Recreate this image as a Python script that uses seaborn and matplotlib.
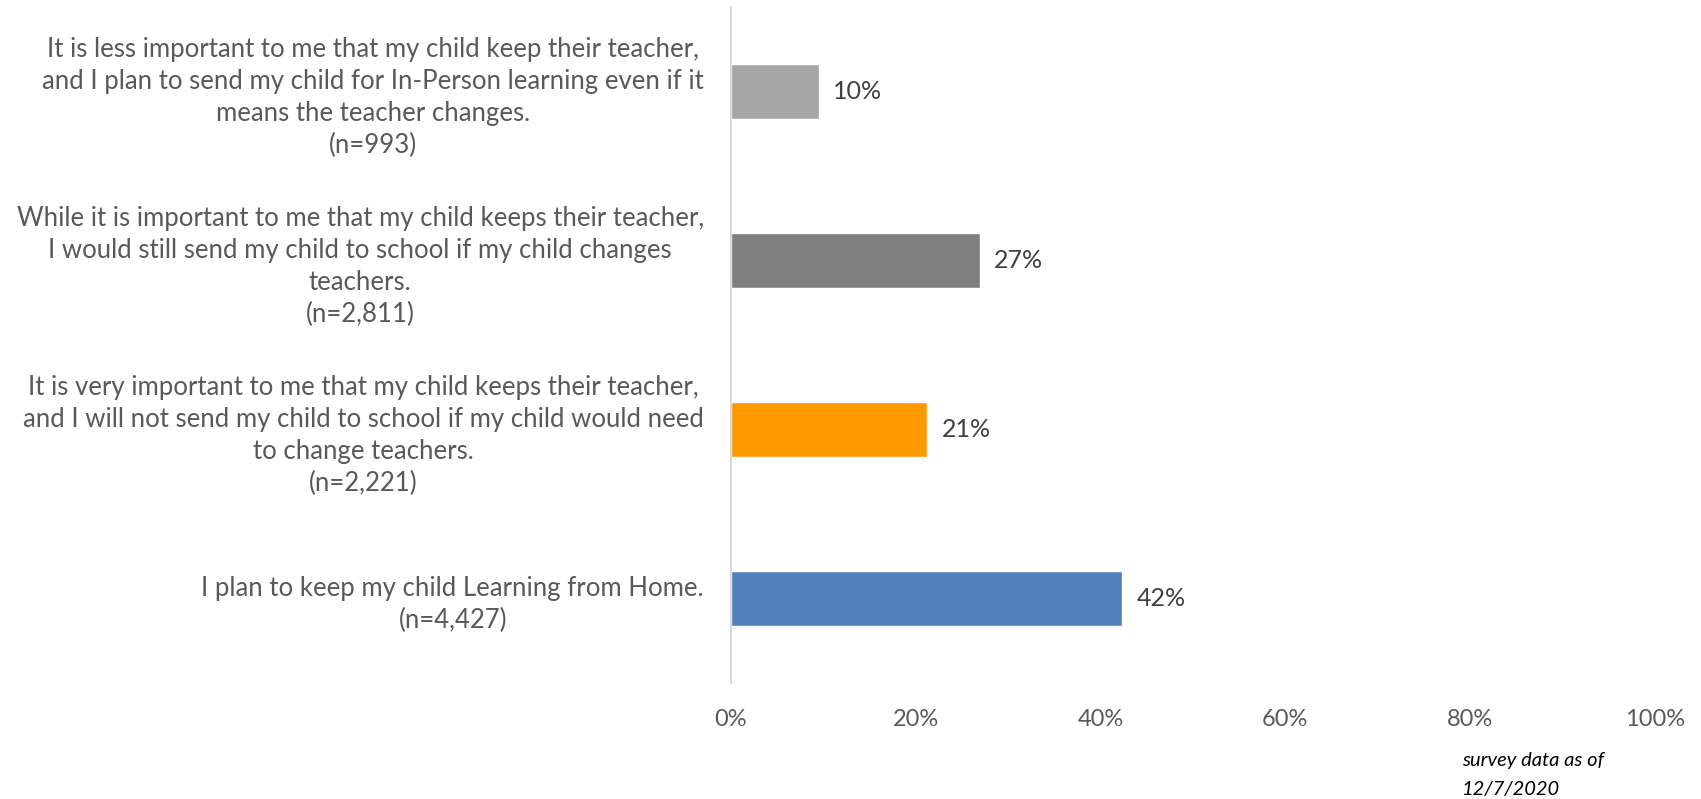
import pandas as pd
import matplotlib
matplotlib.use('Agg')
import matplotlib.pyplot as plt
import seaborn as sns
from matplotlib.ticker import PercentFormatter

# survey responses, top to bottom as shown
categories = [
    "It is less important to me that my child keep their teacher,\n"
    "and I plan to send my child for In-Person learning even if it\n"
    "means the teacher changes.\n(n=993)",
    "While it is important to me that my child keeps their teacher,\n"
    "I would still send my child to school if my child changes\n"
    "teachers.\n(n=2,811)",
    "It is very important to me that my child keeps their teacher,\n"
    "and I will not send my child to school if my child would need\n"
    "to change teachers.\n(n=2,221)",
    "I plan to keep my child Learning from Home.\n(n=4,427)",
]
shares = [0.095, 0.269, 0.2125, 0.4236]
value_labels = ["10%", "27%", "21%", "42%"]
bar_colors = ["#A5A5A5", "#7F7F7F", "#FF9900", "#4F81BD"]
x_ticks = [0, 0.2, 0.4, 0.6, 0.8, 1.0]

df = pd.DataFrame({"category": categories, "share": shares})

sns.set_style("white")
plt.rcParams['font.family'] = ['Lato', 'DejaVu Sans']

fig = plt.figure(figsize=(17.01, 7.99), dpi=100)
ax = fig.add_axes([731 / 1701, 1 - 683 / 799, (1655 - 731) / 1701, 676 / 799])

sns.barplot(data=df, y="category", x="share", hue="category",
            palette=bar_colors, saturation=1, orient="h", width=0.32,
            legend=False, ax=ax)

ax.set_xlim(0, 1)
ax.set_xticks(x_ticks)
ax.xaxis.set_major_formatter(PercentFormatter(1.0, decimals=0))
ax.set_xlabel("")
ax.set_ylabel("")

for spine in ["top", "right", "bottom"]:
    ax.spines[spine].set_visible(False)
ax.spines["left"].set_color("#D9D9D9")
ax.spines["left"].set_linewidth(1.5)

ax.tick_params(axis="x", length=0, pad=19, labelsize=17, labelcolor="#595959")
ax.tick_params(axis="y", length=0, pad=19.5, labelsize=18.5, labelcolor="#595959")
for lbl in ax.get_yticklabels():
    lbl.set_multialignment("center")
    lbl.set_linespacing(1.36)

for i, (v, txt) in enumerate(zip(shares, value_labels)):
    ax.annotate(txt, xy=(v, i), xytext=(10.5, 0), textcoords="offset points",
                va="center", ha="left", fontsize=18, color="#404040")

fig.text(1462 / 1701, 1 - 775 / 799, "survey data as of\n12/7/2020",
         ha="left", va="center", fontsize=14.5, style="italic",
         color="#000000", linespacing=1.8)

fig.savefig("out.png", dpi=100)
